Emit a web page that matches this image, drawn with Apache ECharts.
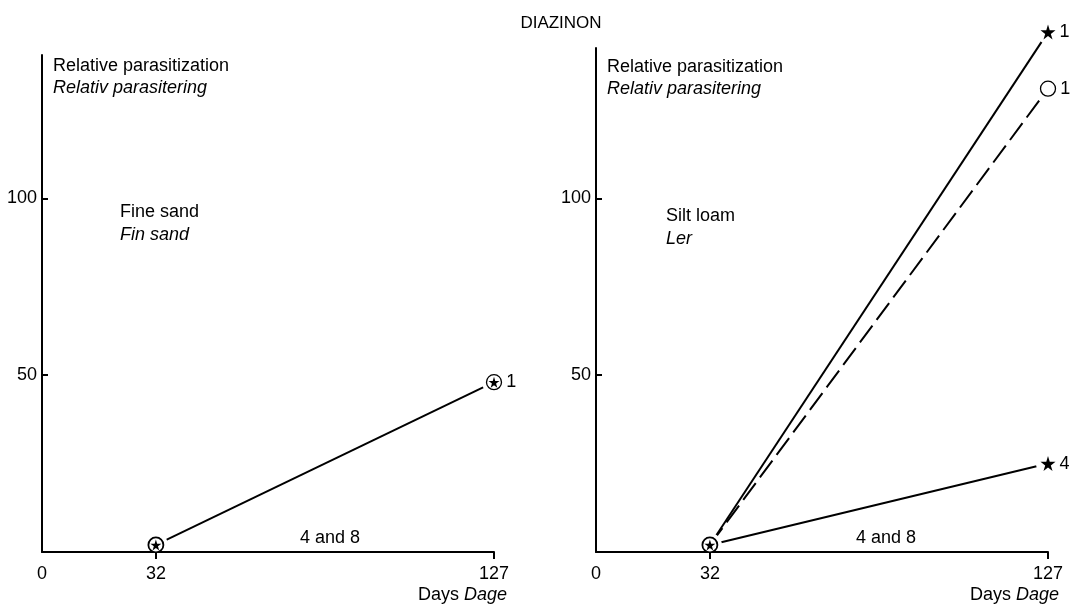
<!DOCTYPE html>
<html>
<head>
<meta charset="utf-8">
<title>DIAZINON</title>
<script src="https://cdn.jsdelivr.net/npm/echarts@6/dist/echarts.min.js"></script>
<style>
  html, body { margin: 0; padding: 0; background: #fff; }
  #chart { width: 1072px; height: 607px; }
</style>
</head>
<body>
<div id="chart"></div>
<script>
// Sampling days
const days = [32, 127];
const xTickValues = [0, 32, 127];
const yTickValues = [50, 100];

// Fine sand (Fin sand)
const fineSandDose1 = [2, 48];
const fineSandDose4and8 = [0, 0];

// Silt loam (Ler)
const siltLoamStar1 = [2, 147];
const siltLoamCircle1 = [2, 131];
const siltLoamStar4 = [2, 25];
const siltLoamDose4and8 = [0, 0];

const FONT = '"Liberation Sans", Arial, sans-serif';
const FS = 18;
const INK = '#000';
const STAR = 'path://M50,0 L61,35 L98,35 L68,57 L79,91 L50,70 L21,91 L32,57 L2,35 L39,35 Z';

const pairs = (xs, ys) => xs.map((x, i) => [x, ys[i]]);

// Axes sit above the white halos so the baseline stays unbroken
function xAxisFor(gridIndex) {
  return {
    gridIndex, type: 'value', min: 0, max: 127, z: 10,
    axisLine: { lineStyle: { color: INK, width: 2 } },
    axisTick: { customValues: [32, 127], length: 7, lineStyle: { color: INK, width: 2 } },
    axisLabel: { customValues: xTickValues, color: INK, fontFamily: FONT, fontSize: FS, margin: 13 },
    splitLine: { show: false }
  };
}
function yAxisFor(gridIndex, max) {
  return {
    gridIndex, type: 'value', min: 0, max, z: 10,
    axisLine: { show: true, lineStyle: { color: INK, width: 2 } },
    axisTick: { customValues: yTickValues, inside: true, length: 6, lineStyle: { color: INK, width: 2 } },
    axisLabel: { customValues: yTickValues, color: INK, fontFamily: FONT, fontSize: FS, margin: 5 },
    splitLine: { show: false }
  };
}

function lineSeries(idx, ys, dashed) {
  return {
    type: 'line', xAxisIndex: idx, yAxisIndex: idx, clip: false,
    data: pairs(days, ys), showSymbol: false, silent: true,
    lineStyle: { color: INK, width: 2, type: dashed ? [21, 7] : 'solid' },
    z: 3
  };
}
// White clearing drawn under every marker so lines stop short of it
function halo(idx, pts) {
  return {
    type: 'scatter', xAxisIndex: idx, yAxisIndex: idx, clip: false, silent: true,
    data: pts, symbol: 'circle', symbolSize: 24,
    itemStyle: { color: '#fff', opacity: 1 }, z: 4
  };
}
// Start marker: open circle with a star inside
function startMarker(idx, y) {
  return [
    { type: 'scatter', xAxisIndex: idx, yAxisIndex: idx, data: [[days[0], y]], symbol: 'circle', symbolSize: 15,
      itemStyle: { color: '#fff', borderColor: INK, borderWidth: 1.8, opacity: 1 }, z: 12, silent: true },
    { type: 'scatter', xAxisIndex: idx, yAxisIndex: idx, data: [[days[0], y]], symbol: STAR, symbolSize: 11,
      itemStyle: { color: INK, opacity: 1 }, z: 13, silent: true }
  ];
}
function endMarker(idx, y, symbol, text, open) {
  return {
    type: 'scatter', xAxisIndex: idx, yAxisIndex: idx, clip: false, silent: true,
    data: [[days[1], y]], symbol, symbolSize: 15,
    itemStyle: open ? { color: '#fff', borderColor: INK, borderWidth: 1.3, opacity: 1 } : { color: INK, opacity: 1 },
    label: { show: true, position: 'right', distance: 4, formatter: text, color: INK, fontFamily: FONT, fontSize: FS },
    z: 12
  };
}

function panelText(x, y, lines, gap) {
  return lines.map((t, i) => ({
    type: 'text', left: x, top: y + i * gap,
    style: { text: t[0], font: (t[1] ? 'italic ' : '') + FS + 'px ' + FONT, fill: INK }
  }));
}
function daysLabel(x, y) {
  return { type: 'text', left: x, top: y, style: { text: '{a|Days }{b|Dage}',
    rich: { a: { font: FS + 'px ' + FONT, fill: INK }, b: { font: 'italic ' + FS + 'px ' + FONT, fill: INK } } } };
}

const chart = echarts.init(document.getElementById('chart'), null, { renderer: 'canvas' });
chart.setOption({
  backgroundColor: '#fff',
  animation: false,
  title: {
    text: 'DIAZINON', left: 556, top: 10, textAlign: 'center',
    textStyle: { fontFamily: FONT, fontSize: 17, fontWeight: 'normal', color: INK }
  },
  grid: [
    { left: 42, top: 55, width: 452, height: 497 },
    { left: 596, top: 48, width: 452, height: 504 }
  ],
  xAxis: [xAxisFor(0), xAxisFor(1)],
  yAxis: [yAxisFor(0, 140.5), yAxisFor(1, 142.5)],
  series: [
    // Fine sand
    lineSeries(0, fineSandDose1, false),
    lineSeries(0, fineSandDose4and8, false),
    halo(0, [[days[0], fineSandDose1[0]], [days[1], fineSandDose1[1]]]),
    ...startMarker(0, fineSandDose1[0]),
    endMarker(0, fineSandDose1[1], 'circle', '1', true),
    { type: 'scatter', xAxisIndex: 0, yAxisIndex: 0, data: [[days[1], fineSandDose1[1]]], symbol: STAR,
      symbolSize: 11, itemStyle: { color: INK, opacity: 1 }, z: 13, silent: true },
    // Silt loam
    lineSeries(1, siltLoamStar1, false),
    lineSeries(1, siltLoamCircle1, true),
    lineSeries(1, siltLoamStar4, false),
    lineSeries(1, siltLoamDose4and8, false),
    halo(1, [[days[0], siltLoamStar1[0]], [days[1], siltLoamStar1[1]],
             [days[1], siltLoamCircle1[1]], [days[1], siltLoamStar4[1]]]),
    ...startMarker(1, siltLoamStar1[0]),
    endMarker(1, siltLoamStar1[1], STAR, '1', false),
    endMarker(1, siltLoamCircle1[1], 'circle', '1', true),
    endMarker(1, siltLoamStar4[1], STAR, '4', false)
  ],
  graphic: [
    ...panelText(53, 57, [['Relative parasitization', false], ['Relativ parasitering', true]], 22),
    ...panelText(607, 58, [['Relative parasitization', false], ['Relativ parasitering', true]], 22),
    ...panelText(120, 203, [['Fine sand', false], ['Fin sand', true]], 23),
    ...panelText(666, 207, [['Silt loam', false], ['Ler', true]], 23),
    { type: 'text', left: 300, top: 529, style: { text: '4 and 8', font: FS + 'px ' + FONT, fill: INK } },
    { type: 'text', left: 856, top: 529, style: { text: '4 and 8', font: FS + 'px ' + FONT, fill: INK } },
    daysLabel(418, 586),
    daysLabel(970, 586)
  ]
});
</script>
</body>
</html>
